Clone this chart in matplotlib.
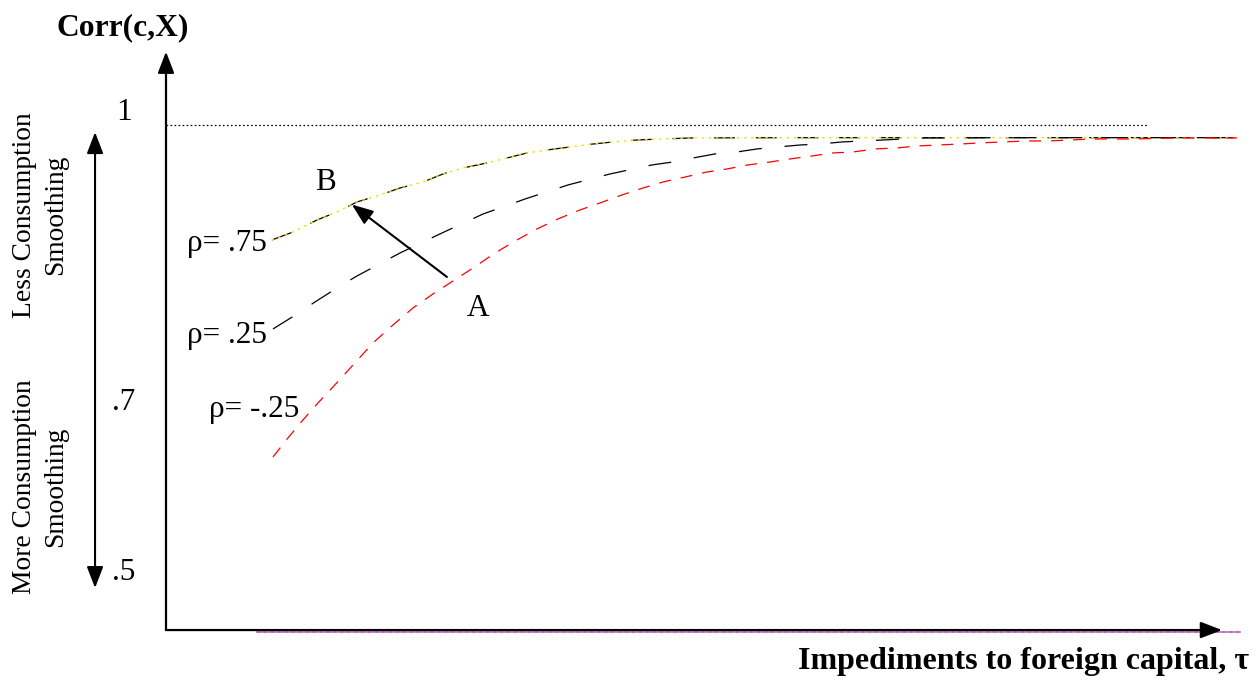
import matplotlib.pyplot as plt

plt.rcParams['font.family'] = ['Liberation Serif', 'DejaVu Serif']
plt.rcParams['lines.scale_dashes'] = False

# curves: tau (impediments) vs Corr(c,X)
tau_75 = [1.004, 1.203, 1.430, 1.619, 1.809, 2.027, 2.216, 2.434, 2.623, 2.813, 3.040,
          3.229, 3.419, 3.608, 3.826, 4.044, 4.233, 4.460, 4.678, 4.991, 6.004, 10.142]
corr_75 = [0.8714, 0.8803, 0.8937, 0.9027, 0.9139, 0.9217, 0.9295, 0.9362, 0.9452, 0.9519,
           0.9575, 0.9631, 0.9687, 0.9720, 0.9754, 0.9787, 0.9810, 0.9832, 0.9843, 0.9855,
           0.9858, 0.9858]

tau_25 = [1.013, 1.212, 1.411, 1.619, 1.809, 2.216, 2.614, 3.002, 3.400, 3.807, 4.205,
          4.602, 4.801, 4.991, 5.199, 5.407, 5.597, 5.795, 6.004, 6.193, 6.402, 6.591,
          6.790, 6.979, 7.188, 7.396, 7.898, 10.142]
corr_25 = [0.7718, 0.7864, 0.8020, 0.8177, 0.8311, 0.8568, 0.8792, 0.9004, 0.9172, 0.9329,
           0.9452, 0.9553, 0.9586, 0.9631, 0.9676, 0.9698, 0.9732, 0.9754, 0.9776, 0.9787,
           0.9810, 0.9821, 0.9832, 0.9843, 0.9855, 0.9855, 0.9858, 0.9858]

tau_m25 = [1.013, 1.155, 1.297, 1.439, 1.581, 1.771, 1.960, 2.150, 2.339, 2.528, 2.718,
           2.907, 3.116, 3.324, 3.513, 3.712, 3.920, 4.110, 4.318, 4.517, 4.706, 4.915,
           5.123, 5.313, 5.511, 5.720, 5.909, 6.117, 6.316, 6.506, 6.714, 6.922, 7.112,
           7.311, 7.519, 7.708, 7.917, 8.153, 8.352, 8.561, 8.769, 9.157, 9.574, 10.142]
corr_m25 = [0.6286, 0.6499, 0.6700, 0.6890, 0.7069, 0.7315, 0.7562, 0.7763, 0.7953, 0.8110,
            0.8255, 0.8400, 0.8568, 0.8714, 0.8837, 0.8949, 0.9049, 0.9128, 0.9217, 0.9295,
            0.9362, 0.9418, 0.9474, 0.9508, 0.9553, 0.9586, 0.9620, 0.9653, 0.9687, 0.9698,
            0.9732, 0.9743, 0.9765, 0.9776, 0.9787, 0.9799, 0.9810, 0.9821, 0.9821, 0.9832,
            0.9843, 0.9843, 0.9855, 0.9855]

rho_labels = ['ρ= .75', 'ρ= .25', 'ρ= -.25']
ytick_labels = ['1', '.7', '.5']

fig = plt.figure(figsize=(12.56, 6.81), dpi=100)
ax = fig.add_axes([0, 0, 1, 1])
ax.set_xlim(-1.572, 10.322)
ax.set_ylim(0.378, 1.1398)
ax.axis('off')

# curves
ax.plot(tau_75, corr_75, color='black', lw=0.9, dashes=(15, 15))
ax.plot(tau_75, corr_75, color='#f0e000', lw=1.0, dashes=(1.1, 4), dash_capstyle='round')
ax.plot(tau_25, corr_25, color='black', lw=0.9, dashes=(16.5, 16.5))
ax.plot(tau_m25, corr_m25, color='red', lw=0.9, dashes=(8.6, 7.2))

# dotted line at 1
ax.plot([0, 9.30], [1, 1], color='black', lw=0.9, dashes=(1.2, 1.7))

# pinkish line along the x axis
ax.plot([0.86, 10.17], [0.433, 0.433], color='#999999', lw=1.3)
ax.plot([0.86, 10.17], [0.433, 0.433], color='#ee44ee', lw=1.3, dashes=(2, 3))

# axes arrows
arr = dict(arrowstyle='-|>,head_length=1.3,head_width=0.5', color='black', lw=1.6,
           mutation_scale=10, shrinkA=0, shrinkB=0)
ax.annotate('', xy=(0, 1.082), xytext=(0, 0.435), arrowprops=arr)
ax.annotate('', xy=(10, 0.435), xytext=(0, 0.435), arrowprops=arr)

# left double arrow
ax.annotate('', xy=(-0.672, 0.992), xytext=(-0.672, 0.482),
            arrowprops=dict(arrowstyle='<|-|>,head_length=1.3,head_width=0.5', color='black',
                            lw=1.5, mutation_scale=10, shrinkA=0, shrinkB=0))

# A -> B arrow
ax.annotate('', xy=(1.76, 0.911), xytext=(2.66, 0.830),
            arrowprops=dict(arrowstyle='-|>,head_length=1.3,head_width=0.5', color='black',
                            lw=1.5, mutation_scale=10, shrinkA=0, shrinkB=0))

def fx(px):
    return px / 1256

def fy(py):
    return 1 - py / 681

fs = 22.5
fig.text(fx(123), fy(28), 'Corr(c,X)', fontsize=22.7, fontweight='bold', ha='center', va='center')
fig.text(fx(1249), fy(661), 'Impediments to foreign capital, τ', fontsize=23, fontweight='bold',
         ha='right', va='center')

for lab, py in zip(ytick_labels, [113, 402, 572]):
    fig.text(fx(124), fy(py), lab, fontsize=fs, ha='center', va='center')

fig.text(fx(325), fy(183), 'B', fontsize=fs, ha='center', va='center')
fig.text(fx(478), fy(308), 'A', fontsize=fs, ha='center', va='center')

for lab, px, py in zip(rho_labels, [267, 267, 299], [243, 335, 410]):
    fig.text(fx(px), fy(py), lab, fontsize=fs, ha='right', va='center')

fig.text(fx(40), fy(215), 'Less Consumption\nSmoothing', fontsize=19.8, rotation=90,
         ha='center', va='center', linespacing=1.35, multialignment='center')
fig.text(fx(40), fy(487), 'More Consumption\nSmoothing', fontsize=19.8, rotation=90,
         ha='center', va='center', linespacing=1.35, multialignment='center')

fig.savefig('out.png', dpi=100)
